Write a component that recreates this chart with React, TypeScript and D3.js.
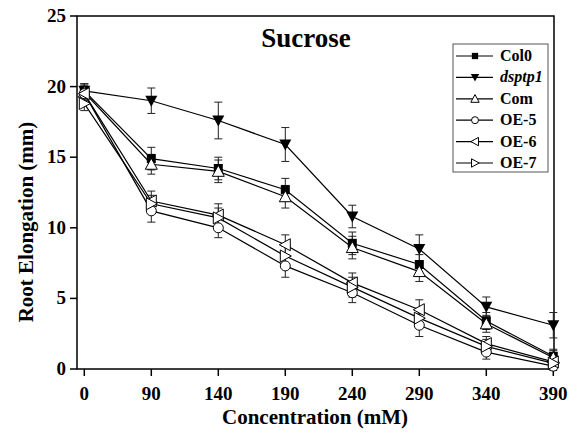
import React from 'react'
import * as d3 from 'd3'

// concentrations (mM), shown as evenly spaced categories
const concentrations = ['0', '90', '140', '190', '240', '290', '340', '390']
const yTicks = [0, 5, 10, 15, 20, 25]

const seriesNames = ['Col0', 'dsptp1', 'Com', 'OE-5', 'OE-6', 'OE-7']

// root elongation (mm)
const col0 = [19.7, 14.9, 14.2, 12.7, 8.9, 7.4, 3.4, 0.9]
const dsptp1 = [19.7, 19.0, 17.6, 15.9, 10.8, 8.5, 4.4, 3.1]
const com = [19.6, 14.5, 14.0, 12.2, 8.6, 6.9, 3.2, 0.8]
const oe5 = [19.5, 11.2, 10.0, 7.3, 5.4, 3.1, 1.2, 0.2]
const oe6 = [19.5, 11.9, 10.9, 8.8, 6.1, 4.2, 1.8, 0.5]
const oe7 = [18.8, 11.7, 10.7, 8.0, 5.8, 3.6, 1.6, 0.4]

// standard errors
const col0Err = [0.5, 0.8, 0.8, 0.8, 0.8, 0.7, 0.6, 0.5]
const dsptp1Err = [0.5, 0.9, 1.3, 1.2, 0.8, 1.0, 0.7, 0.9]
const comErr = [0.5, 0.7, 0.8, 0.8, 0.8, 0.7, 0.6, 0.5]
const oe5Err = [0.5, 0.8, 0.7, 0.8, 0.7, 0.8, 0.5, 0.3]
const oe6Err = [0.5, 0.7, 0.8, 0.7, 0.7, 0.7, 0.5, 0.3]
const oe7Err = [0.5, 0.6, 0.7, 0.7, 0.7, 0.7, 0.5, 0.3]

const allValues = [col0, dsptp1, com, oe5, oe6, oe7]
const allErrors = [col0Err, dsptp1Err, comErr, oe5Err, oe6Err, oe7Err]

const serif = { fontFamily: 'Liberation Serif, Times New Roman, DejaVu Serif, serif', fontWeight: 700 }

// marker drawing per series, k = scale
function Marker({ kind, cx, cy, k = 1 }: { kind: number; cx: number; cy: number; k?: number }) {
  const a = 6 * k
  const b = 5 * k
  switch (kind) {
    case 0:
      return <rect x={cx - 4.5 * k} y={cy - 4.5 * k} width={9 * k} height={9 * k} fill="black" />
    case 1:
      return <path d={`M${cx - a},${cy - b}L${cx + a},${cy - b}L${cx},${cy + a}Z`} fill="black" />
    case 2:
      return (
        <path
          d={`M${cx - a},${cy + b}L${cx + a},${cy + b}L${cx},${cy - a}Z`}
          fill="white"
          stroke="black"
          strokeWidth={1}
        />
      )
    case 3:
      return <circle cx={cx} cy={cy} r={b} fill="white" stroke="black" strokeWidth={1} />
    case 4:
      return (
        <path
          d={`M${cx + b},${cy - a}L${cx + b},${cy + a}L${cx - a},${cy}Z`}
          fill="white"
          stroke="black"
          strokeWidth={1}
        />
      )
    default:
      return (
        <path
          d={`M${cx - b},${cy - a}L${cx - b},${cy + a}L${cx + a},${cy}Z`}
          fill="white"
          stroke="black"
          strokeWidth={1}
        />
      )
  }
}

export default function App() {
  const width = 571
  const height = 433
  const left = 77,
    right = 554,
    top = 16,
    bottom = 369

  const x = d3.scalePoint<string>().domain(concentrations).range([84.3, 553.3])
  const y = d3.scaleLinear().domain([0, 25]).range([bottom, top])

  const line = d3
    .line<number>()
    .x((d, i) => x(concentrations[i]) as number)
    .y((d) => y(d))

  const legendX = 453
  const legendY = 44
  const rowH = 21.4

  return (
    <svg
      width={width}
      height={height}
      style={{ position: 'absolute', left: 0, top: 0, background: 'white' }}
    >
      {/* frame */}
      <path
        d={`M${left},${top}L${right},${top}L${right},${bottom}L${left},${bottom}Z`}
        fill="none"
        stroke="black"
        strokeWidth={1.5}
      />

      {/* y axis */}
      {yTicks.map((t) => (
        <g key={'y' + t}>
          <line x1={left - 7} x2={left} y1={y(t)} y2={y(t)} stroke="black" strokeWidth={1.5} />
          <text x={left - 11} y={y(t) + 6} textAnchor="end" fontSize={19} style={serif}>
            {t}
          </text>
        </g>
      ))}

      {/* x axis */}
      {concentrations.map((c) => (
        <g key={'x' + c}>
          <line x1={x(c)} x2={x(c)} y1={bottom} y2={bottom + 7} stroke="black" strokeWidth={1.5} />
          <text x={x(c)} y={400} textAnchor="middle" fontSize={19} style={serif}>
            {c}
          </text>
        </g>
      ))}

      {/* axis titles */}
      <text x={315} y={424} textAnchor="middle" fontSize={21} style={serif}>
        Concentration (mM)
      </text>
      <text transform="translate(33,222) rotate(-90)" textAnchor="middle" fontSize={21} style={serif}>
        Root Elongation (mm)
      </text>

      {/* title */}
      <text x={306} y={47} textAnchor="middle" fontSize={27} style={serif}>
        Sucrose
      </text>

      {/* lines */}
      {allValues.map((vals, k) => (
        <path key={'l' + k} d={line(vals) as string} fill="none" stroke="black" strokeWidth={1.2} />
      ))}

      {/* error bars */}
      {allValues.map((vals, k) =>
        vals.map((v, i) => {
          const cx = x(concentrations[i]) as number
          const e = allErrors[k][i]
          return (
            <g key={'e' + k + '-' + i} stroke="#222" strokeWidth={1}>
              <line x1={cx} x2={cx} y1={y(v + e)} y2={y(v - e)} />
              <line x1={cx - 4} x2={cx + 4} y1={y(v + e)} y2={y(v + e)} />
              <line x1={cx - 4} x2={cx + 4} y1={y(v - e)} y2={y(v - e)} />
            </g>
          )
        })
      )}

      {/* markers */}
      {allValues.map((vals, k) =>
        vals.map((v, i) => (
          <Marker key={'m' + k + '-' + i} kind={k} cx={x(concentrations[i]) as number} cy={y(v)} />
        ))
      )}

      {/* legend */}
      <rect x={legendX} y={legendY} width={95} height={128} fill="white" stroke="#555" strokeWidth={1} />
      {seriesNames.map((name, k) => {
        const ry = legendY + 12 + k * rowH
        return (
          <g key={'lg' + k}>
            <line x1={456} x2={493} y1={ry} y2={ry} stroke="black" strokeWidth={1.2} />
            <Marker kind={k} cx={475} cy={ry} k={0.7} />
            <text
              x={500}
              y={ry + 5}
              fontSize={16}
              style={{ ...serif, fontStyle: k === 1 ? 'italic' : 'normal' }}
            >
              {name}
            </text>
          </g>
        )
      })}
    </svg>
  )
}
